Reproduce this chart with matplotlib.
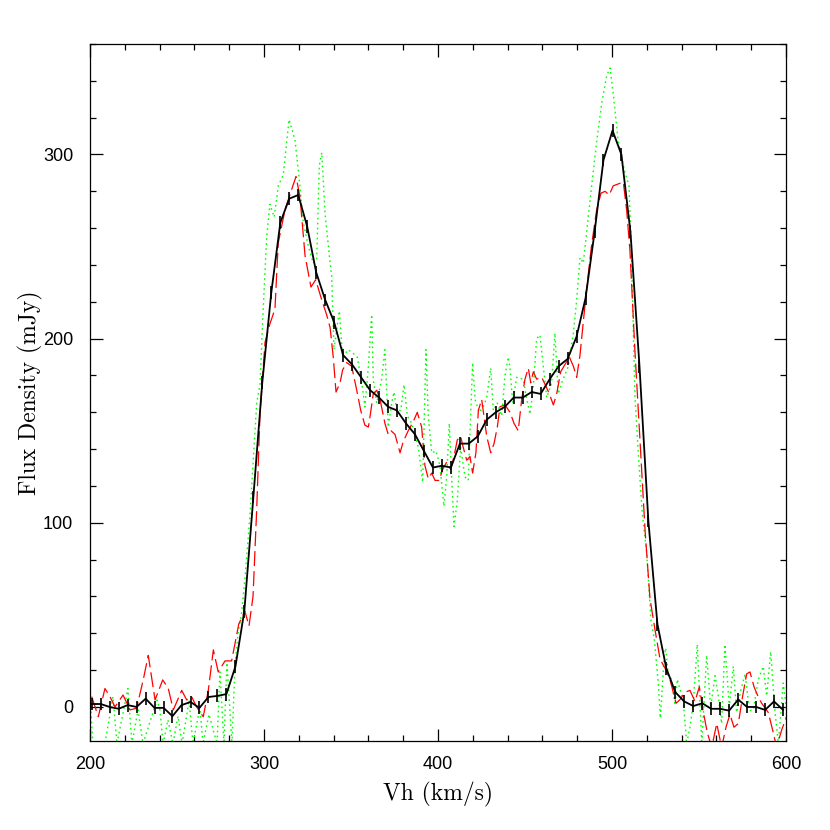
#!/usr/bin/env python3
"""HI profile: flux density vs heliocentric velocity, three spectra overlaid."""
import matplotlib

matplotlib.use("Agg")
import matplotlib.pyplot as plt
from matplotlib.ticker import MultipleLocator

# black: binned spectrum with error bars
black_v = [
    201.0, 206.2, 211.3, 216.5, 221.6, 226.8, 232.0, 237.1, 242.3, 247.4,
    252.6, 257.8, 262.9, 268.1, 273.2, 278.4, 283.6, 288.7, 293.9, 299.0,
    304.2, 309.4, 314.5, 319.7, 324.8, 330.0, 335.2, 340.3, 345.5, 350.6,
    355.8, 361.0, 366.1, 371.3, 376.4, 381.6, 386.8, 391.9, 397.1, 402.2,
    407.4, 412.6, 417.7, 422.9, 428.0, 433.2, 438.4, 443.5, 448.7, 453.8,
    459.0, 464.2, 469.3, 474.5, 479.6, 484.8, 490.0, 495.1, 500.3, 505.4,
    510.6, 515.8, 520.9, 526.1, 531.2, 536.4, 541.5, 546.7, 551.9, 557.0,
    562.2, 567.3, 572.5, 577.6, 582.8, 588.0, 593.1, 598.3,
]
black_f = [
    1.6, 1.6, 0.0, -1.0, 1.0, 0.0, 4.5, -0.5, -0.5, -5.0,
    1.0, 2.7, -0.5, 5.4, 6.0, 7.0, 22.0, 52.0, 114.0, 176.0,
    225.0, 263.0, 276.0, 278.0, 261.0, 236.0, 221.0, 209.0, 191.0, 186.0,
    179.0, 172.0, 168.0, 163.0, 161.0, 154.0, 148.0, 139.0, 130.0, 131.0,
    130.0, 143.0, 143.0, 147.0, 156.0, 160.0, 163.0, 168.0, 168.0, 171.0,
    170.0, 178.0, 185.0, 189.0, 201.0, 222.0, 258.0, 297.0, 313.0, 300.0,
    258.0, 185.0, 101.0, 45.0, 21.0, 8.0, 3.0, 0.5, 2.0, -1.0,
    -1.0, -2.0, 4.0, 0.0, 0.0, -1.6, 3.0, -1.6,
]
black_err = 3.5

# red: dashed spectrum
red_v = [
    201.0, 204.8, 208.6, 211.5, 214.4, 219.0, 223.0, 226.8, 230.6, 233.5,
    237.4, 241.8, 245.0, 247.9, 252.7, 255.6, 258.4, 261.3, 265.1, 268.0,
    270.9, 273.7, 277.6, 281.4, 285.5, 289.0, 291.4, 293.7, 295.8, 297.7,
    300.6, 303.4, 306.3, 308.2, 312.1, 315.9, 318.4, 320.7, 323.6, 327.0,
    329.7, 333.2, 336.0, 338.0, 339.8, 341.4, 343.7, 345.2, 347.5, 350.4,
    353.3, 355.6, 358.0, 360.0, 361.3, 362.8, 364.8, 366.7, 369.5, 371.4,
    373.0, 375.3, 378.2, 380.0, 382.9, 385.8, 388.1, 390.6, 392.5, 394.4,
    396.4, 398.3, 400.7, 402.7, 405.0, 407.3, 409.2, 411.1, 413.0, 414.5,
    416.5, 418.4, 419.9, 421.8, 423.2, 425.1, 428.0, 430.3, 432.2, 434.1,
    435.6, 438.5, 441.4, 443.7, 446.1, 448.1, 450.0, 451.9, 453.3, 454.8,
    456.7, 459.6, 462.1, 464.0, 466.3, 468.2, 470.5, 473.0, 475.5, 477.8,
    479.7, 481.6, 483.5, 485.3, 488.3, 491.2, 493.7, 496.0, 498.4, 500.7,
    503.6, 506.5, 508.4, 510.3, 513.2, 516.1, 519.0, 521.8, 524.7, 527.6,
    530.5, 533.3, 536.8, 539.1, 542.0, 544.8, 547.7, 550.2, 552.5, 554.8,
    557.3, 560.2, 563.0, 565.5, 567.8, 570.1, 572.6, 575.1, 577.4, 579.3,
    581.6, 584.0, 586.0, 589.8, 592.7, 594.6, 597.5, 600.4,
]
red_f = [
    5.6, -5.3, 10.0, 5.6, 0.0, 6.5, -1.6, -0.7, 14.7, 28.0,
    3.8, 14.7, 10.0, -1.6, 9.0, 3.8, 5.6, 0.0, -5.3, 9.0,
    31.0, 19.0, 25.0, 25.0, 45.0, 52.0, 44.0, 60.0, 107.0, 159.0,
    198.0, 208.0, 216.0, 252.0, 270.0, 281.0, 288.0, 277.0, 245.0, 228.0,
    232.0, 221.0, 213.0, 206.0, 190.0, 171.0, 176.0, 183.0, 187.0, 185.0,
    172.0, 161.0, 153.0, 152.0, 160.0, 170.0, 172.0, 167.0, 154.0, 148.0,
    150.0, 148.0, 138.0, 144.0, 150.0, 155.0, 160.0, 152.0, 131.0, 124.0,
    127.0, 123.0, 123.0, 129.0, 133.0, 129.0, 136.0, 145.0, 147.0, 141.0,
    134.0, 136.0, 127.0, 138.0, 161.0, 167.0, 147.0, 138.0, 143.0, 152.0,
    163.0, 164.0, 160.0, 154.0, 150.0, 167.0, 178.0, 184.0, 176.0, 182.0,
    178.0, 179.0, 174.0, 170.0, 164.0, 170.0, 182.0, 186.0, 190.0, 185.0,
    179.0, 191.0, 209.0, 226.0, 251.0, 270.0, 279.0, 280.0, 278.0, 283.0,
    284.0, 285.0, 270.0, 248.0, 193.0, 144.0, 96.0, 59.0, 42.0, 26.0,
    21.0, 15.0, 2.0, 4.0, 8.0, 9.0, 3.0, 11.0, -3.0, -14.0,
    -22.0, -9.0, -22.0, -11.0, -4.0, -11.0, -9.0, 6.0, 18.0, 19.0,
    11.0, 5.6, 2.0, -3.0, -14.0, -22.0, -12.5, -5.0,
]

# green: dotted spectrum
green_v = [
    200.0, 201.7, 208.6, 213.2, 215.5, 221.8, 224.1, 227.6, 230.5, 238.5,
    240.2, 242.0, 244.8, 247.7, 250.6, 252.9, 255.7, 256.9, 259.2, 263.2,
    264.9, 268.4, 273.0, 274.7, 277.0, 278.7, 281.6, 283.3, 285.1, 287.0,
    289.1, 292.0, 295.8, 297.7, 299.5, 301.6, 303.4, 305.9, 308.2, 311.1,
    314.4, 317.8, 320.1, 322.6, 325.5, 328.3, 330.3, 331.8, 333.2, 335.1,
    338.0, 338.9, 340.2, 343.3, 345.2, 348.4, 351.3, 353.6, 356.2, 358.0,
    360.0, 361.9, 362.8, 364.8, 367.6, 369.5, 371.4, 373.4, 374.7, 376.3,
    378.6, 380.5, 382.4, 384.9, 388.7, 391.2, 393.1, 394.4, 396.4, 398.9,
    401.1, 403.4, 405.0, 406.5, 407.9, 409.2, 411.1, 413.0, 415.5, 417.4,
    419.9, 421.3, 423.7, 426.0, 428.0, 430.3, 431.8, 434.1, 436.6, 438.5,
    440.4, 441.4, 442.9, 445.2, 449.0, 451.0, 452.9, 454.8, 456.7, 458.6,
    460.5, 462.5, 465.3, 467.2, 469.1, 471.1, 474.9, 477.8, 479.7, 481.6,
    483.5, 488.3, 491.2, 494.1, 497.0, 498.9, 500.7, 503.6, 507.5, 509.8,
    511.3, 513.2, 515.5, 517.4, 519.9, 522.4, 524.3, 526.6, 527.8, 530.0,
    530.9, 532.4, 534.3, 536.2, 537.5, 541.0, 542.9, 544.8, 546.7, 549.0,
    551.6, 554.4, 556.7, 559.2, 561.1, 563.0, 564.9, 567.4, 569.7, 571.6,
    574.0, 576.5, 579.0, 581.2, 584.1, 586.9, 588.9, 591.2, 593.7, 595.6,
    598.4, 600.4,
]
green_f = [
    5.6, -20.0, -20.0, 5.6, -20.0, 10.0, -20.0, -1.6, -20.0, 3.8,
    -1.6, -20.0, -7.0, -20.0, -5.0, -20.0, -4.0, 3.8, -20.0, 0.0,
    -20.0, -4.0, -20.0, 19.0, -20.0, 24.0, -20.0, 22.0, 40.0, 50.0,
    70.0, 105.0, 165.0, 175.0, 215.0, 256.0, 273.0, 266.0, 283.0, 289.0,
    319.0, 308.0, 288.0, 263.0, 250.0, 241.0, 243.0, 294.0, 301.0, 268.0,
    241.0, 234.0, 194.0, 215.0, 190.0, 194.0, 192.0, 190.0, 176.0, 163.0,
    185.0, 213.0, 178.0, 165.0, 178.0, 194.0, 152.0, 165.0, 171.0, 161.0,
    161.0, 175.0, 158.0, 154.0, 141.0, 122.0, 194.0, 158.0, 138.0, 139.0,
    131.0, 109.0, 125.0, 154.0, 123.0, 98.0, 112.0, 141.0, 125.0, 123.0,
    187.0, 167.0, 160.0, 163.0, 168.0, 184.0, 161.0, 165.0, 158.0, 180.0,
    190.0, 184.0, 165.0, 179.0, 178.0, 167.0, 159.0, 174.0, 200.0, 202.0,
    185.0, 168.0, 176.0, 203.0, 170.0, 176.0, 185.0, 203.0, 221.0, 244.0,
    241.0, 283.0, 307.0, 328.0, 343.0, 347.0, 333.0, 307.0, 290.0, 283.0,
    241.0, 168.0, 132.0, 105.0, 84.0, 47.0, 37.0, 13.0, -6.0, 28.0,
    32.0, 17.0, 15.0, 1.0, 15.0, 3.0, -20.0, -11.0, 2.0, 34.0,
    -20.0, 28.0, 0.0, 17.0, 6.0, -9.0, 34.0, 0.0, 22.0, -3.0,
    9.0, 18.0, -2.0, -1.6, 15.0, 22.0, 6.0, 30.0, -3.0, -20.0,
    13.0, -2.0,
]

plt.rcParams.update({"font.family": "Liberation Sans", "font.size": 13})


def main() -> None:
    fig = plt.figure(figsize=(8.3, 8.3), dpi=100)
    ax = fig.add_axes([0.1084, 0.1072, 0.8386, 0.8398])

    ax.plot(green_v, green_f, color="#00ff00", lw=1.0, dashes=(1.2, 2.4))
    ax.plot(red_v, red_f, color="#ff0000", lw=0.9, dashes=(12, 4))
    ax.errorbar(black_v, black_f, yerr=black_err, color="black", lw=1.3,
                elinewidth=1.2, capsize=0)

    ax.set_xlim(200, 600)
    ax.set_ylim(-18.5, 360)
    ax.xaxis.set_major_locator(MultipleLocator(100))
    ax.xaxis.set_minor_locator(MultipleLocator(20))
    ax.yaxis.set_major_locator(MultipleLocator(100))
    ax.yaxis.set_minor_locator(MultipleLocator(20))
    ax.tick_params(which="both", direction="in", top=True, right=True, width=0.9)
    ax.tick_params(which="major", length=9, labelsize=13)
    ax.tick_params(which="minor", length=4.5)
    ax.tick_params(axis="x", which="major", pad=11)
    ax.tick_params(axis="y", which="major", pad=12)
    for sp in ax.spines.values():
        sp.set_linewidth(0.9)

    ax.set_xlabel("Vh (km/s)", family="cmr10", fontsize=17, labelpad=6)
    ax.set_ylabel("Flux Density (mJy)", family="cmr10", fontsize=17, labelpad=0)

    fig.savefig("out.png", dpi=100)


if __name__ == "__main__":
    main()
